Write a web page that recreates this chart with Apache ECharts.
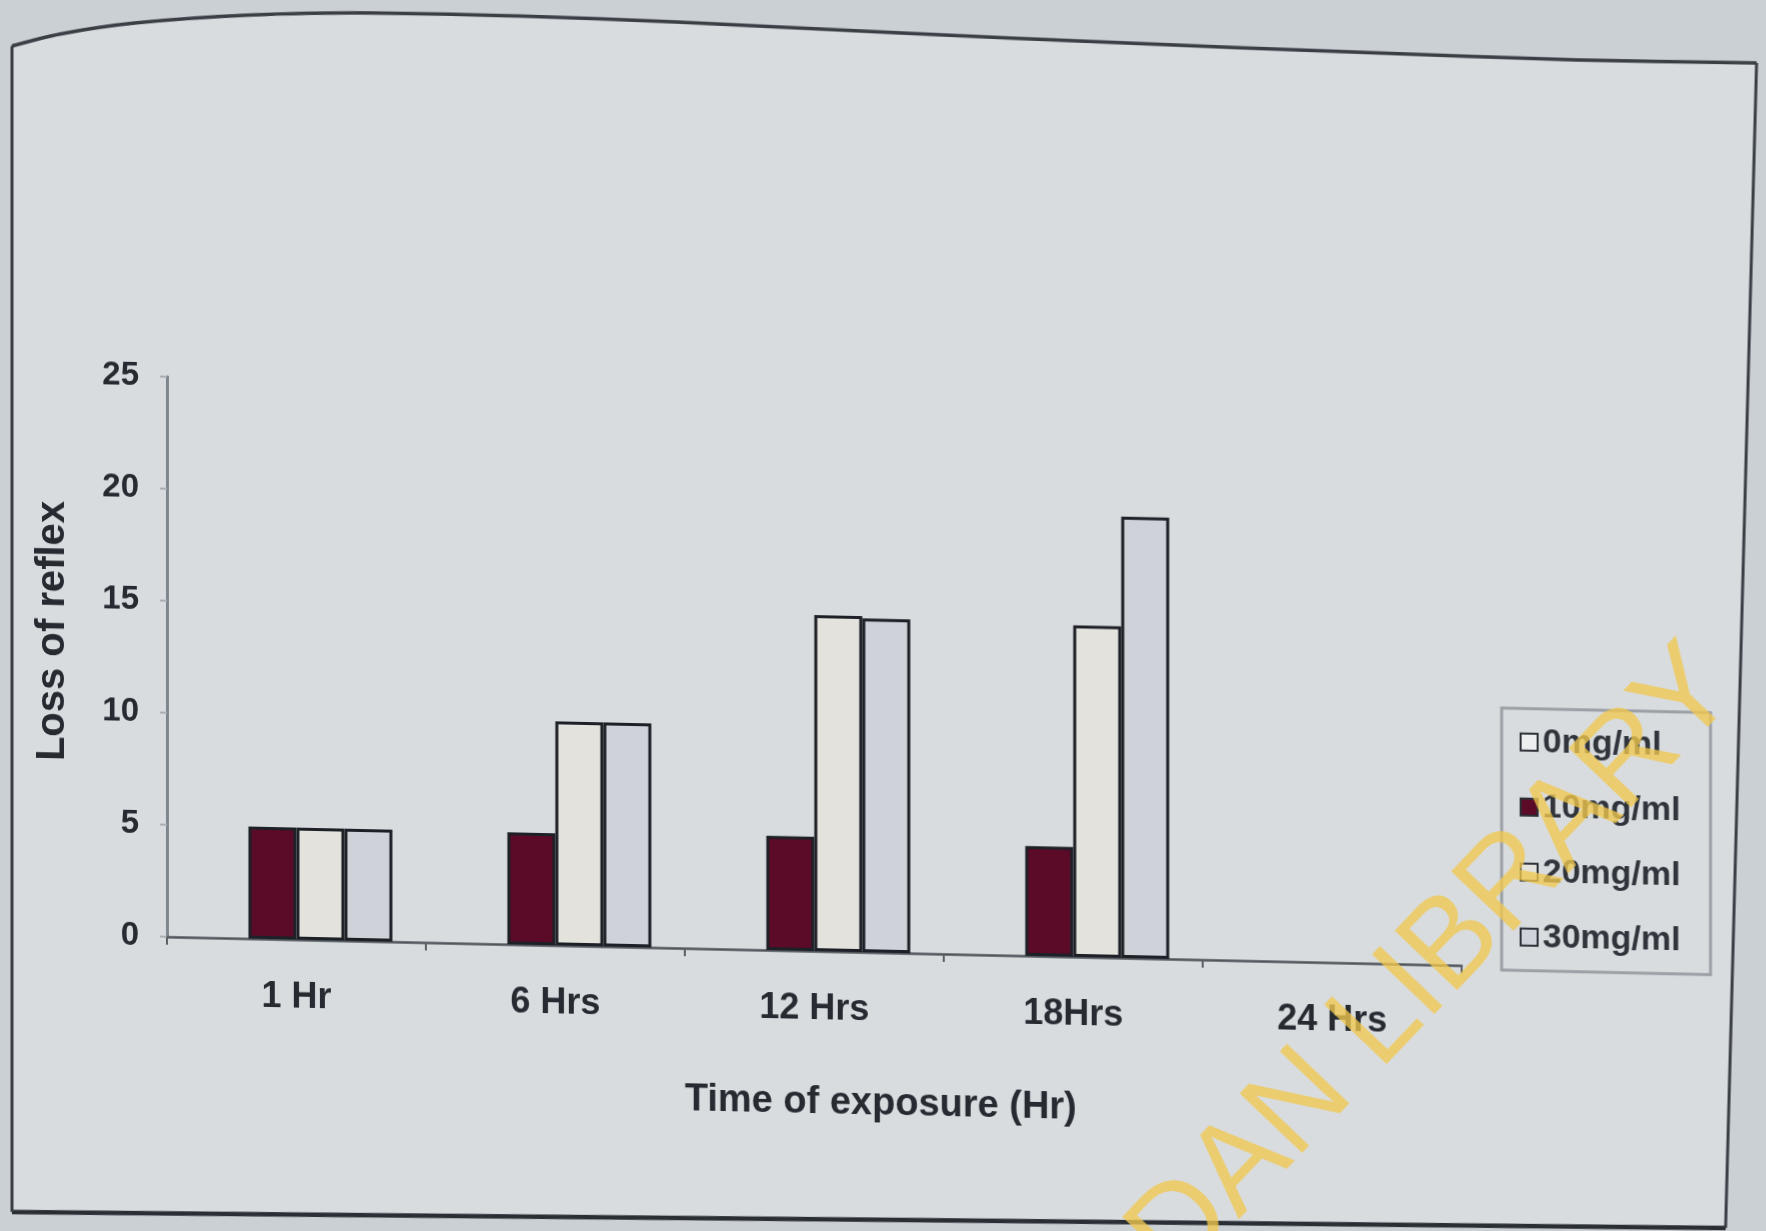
<!DOCTYPE html>
<html>
<head>
<meta charset="utf-8">
<title>Loss of reflex vs time of exposure</title>
<script src="https://cdn.jsdelivr.net/npm/echarts@6/dist/echarts.min.js"></script>
<style>
  html, body { margin: 0; padding: 0; background: #cbd0d5; overflow: hidden; }
  #chart {
    position: absolute; left: 0; top: 0;
    width: 1766px; height: 1231px;
    transform: skewY(1.27deg);
    transform-origin: 0 0;
  }
</style>
</head>
<body>
<div id="chart"></div>
<script>
// ---- data ----
const categories = ['1 Hr', '6 Hrs', '12 Hrs', '18Hrs', '24 Hrs'];
const seriesNames = ['0mg/ml', '10mg/ml', '20mg/ml', '30mg/ml'];
const dose0  = [0, 0, 0, 0, 0];
const dose10 = [5, 5, 5.1, 4.9, 0];
const dose20 = [5, 10, 15, 14.8, 0];
const dose30 = [5, 10, 14.9, 19.7, 0];
const yTicks = [0, 5, 10, 15, 20, 25];

// ---- styling ----
const FONT = '"Liberation Sans", Arial, sans-serif';
const INK = '#262a31';
const fills = ['#eceeef', '#5b0a27', '#e3e2dd', '#cfd3d9'];

// the page is sheared slightly; graphic points are given in page space
// and mapped back into the chart's own (unsheared) space
const K = Math.tan(1.27 * Math.PI / 180);
const sk = p => [p[0], p[1] - K * p[0]];

const topEdge = [[12, 46], [60, 34], [135, 23], [250, 15], [372, 13], [520, 16],
  [676, 22], [901, 33], [1126, 43], [1352, 52], [1577, 60], [1757, 63]];
const rightEdge = [[1757, 63], [1726, 1228]];
const bottomEdge = [[1726, 1228], [900, 1220], [12, 1212]];
const leftEdge = [[12, 1212], [12, 46]];
const paper = topEdge.concat(rightEdge, bottomEdge, leftEdge);

function barData(arr) {
  // zero values get no outline so nothing is drawn on the axis
  return arr.map(v => v === 0 ? { value: 0, itemStyle: { borderWidth: 0 } } : v);
}

const allSeries = [dose0, dose10, dose20, dose30].map((arr, i) => ({
  name: seriesNames[i],
  type: 'bar',
  data: barData(arr),
  barWidth: 48,
  barGap: '0%',
  itemStyle: { color: fills[i], borderColor: '#1d2026', borderWidth: i === 0 ? 0 : 3 },
  emphasis: { disabled: true }
}));

const chart = echarts.init(document.getElementById('chart'), null, { renderer: 'canvas' });

chart.setOption({
  animation: false,
  backgroundColor: 'transparent',
  textStyle: { fontFamily: FONT },
  grid: { left: 167, top: 373, width: 1295, height: 560, containLabel: false },
  xAxis: {
    type: 'category',
    data: categories,
    axisLine: { lineStyle: { color: '#50555c', width: 2.5 } },
    axisTick: { show: true, length: 8, lineStyle: { color: '#5a5f66', width: 2 } },
    axisLabel: { fontSize: 36, fontWeight: 'bold', color: INK, margin: 40, fontFamily: FONT },
    splitLine: { show: false }
  },
  yAxis: {
    type: 'value',
    min: yTicks[0],
    max: yTicks[yTicks.length - 1],
    interval: yTicks[1] - yTicks[0],
    axisLine: { show: true, lineStyle: { color: '#80868e', width: 3 } },
    axisTick: { show: true, length: 7, lineStyle: { color: '#a9afb5', width: 2 } },
    axisLabel: { fontSize: 33, fontWeight: 'bold', color: INK, margin: 28, fontFamily: FONT },
    splitLine: { show: false }
  },
  legend: {
    orient: 'vertical',
    left: 1502,
    top: 708 - K * 1502,
    data: seriesNames,
    icon: 'rect',
    itemWidth: 17,
    itemHeight: 17,
    itemGap: 30,
    padding: [16, 30, 16, 18],
    borderColor: '#9ba0a6',
    borderWidth: 3,
    backgroundColor: 'transparent',
    itemStyle: { borderColor: '#2b2f36', borderWidth: 2 },
    textStyle: { fontSize: 34, fontWeight: 'bold', color: '#30343b', lineHeight: 35, fontFamily: FONT },
    selectedMode: false
  },
  graphic: [
    { type: 'polygon', z: -30, silent: true,
      shape: { points: paper.map(sk) },
      style: { fill: '#d9dcdf', stroke: null } },
    { type: 'polyline', z: -20, silent: true,
      shape: { points: topEdge.map(sk), smooth: 0.3 },
      style: { stroke: '#3a3f46', lineWidth: 3.5, fill: null } },
    { type: 'polyline', z: -20, silent: true,
      shape: { points: rightEdge.map(sk) },
      style: { stroke: '#3a3f46', lineWidth: 3, fill: null } },
    { type: 'polyline', z: -20, silent: true,
      shape: { points: bottomEdge.map(sk) },
      style: { stroke: '#2a2e35', lineWidth: 4.5, fill: null } },
    { type: 'polyline', z: -20, silent: true,
      shape: { points: leftEdge.map(sk) },
      style: { stroke: '#3a3f46', lineWidth: 3, fill: null } },
    { type: 'text', z: 50, silent: true,
      x: 53, y: 631 - K * 53, rotation: Math.PI / 2,
      style: { text: 'Loss of reflex', fill: INK, font: 'bold 40px ' + FONT,
               align: 'center', verticalAlign: 'middle' } },
    { type: 'text', z: 50, silent: true,
      x: 881, y: 1104 - K * 881,
      style: { text: 'Time of exposure (Hr)', fill: INK, font: 'bold 38px ' + FONT,
               align: 'center', verticalAlign: 'middle' } },
    { type: 'text', z: 100, silent: true,
      x: 1366, y: 1036 - K * 1366, rotation: 47 * Math.PI / 180,
      style: { text: 'IBADAN LIBRARY', fill: 'rgba(240, 200, 78, 0.78)', font: '124px ' + FONT,
               align: 'center', verticalAlign: 'middle' } }
  ],
  series: allSeries
});
</script>
</body>
</html>
